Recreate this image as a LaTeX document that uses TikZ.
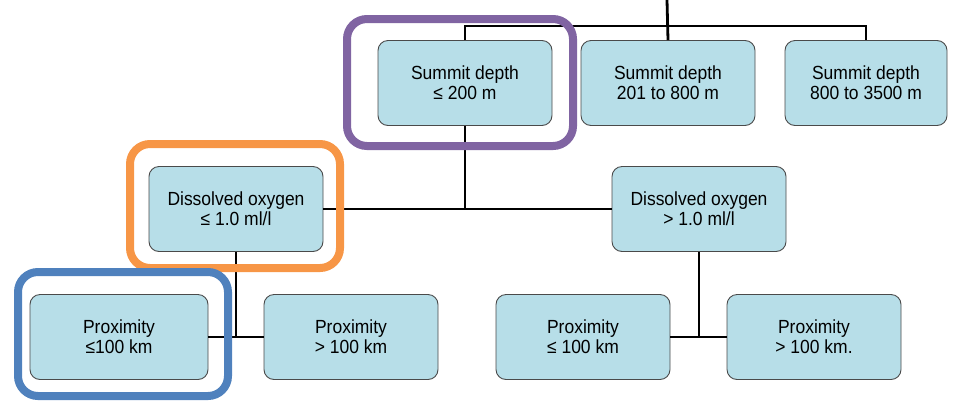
\documentclass[tikz,border=0pt]{standalone}
\usepackage{fontspec}
\setmainfont{Liberation Sans}[FakeStretch=0.92]
\definecolor{boxfill}{HTML}{B7DEE8}
\definecolor{boxedge}{HTML}{4A4A4A}
\definecolor{hlpurple}{HTML}{8064A2}
\definecolor{hlorange}{HTML}{F79646}
\definecolor{hlblue}{HTML}{4F81BD}
\begin{document}
\begin{tikzpicture}[x=1pt,y=-1pt,
  crit/.style={draw=boxedge,line width=0.9pt,fill=boxfill,rounded corners=10pt,
    minimum width=174pt,minimum height=85pt,align=center,inner sep=0pt,
    font=\fontsize{19}{20}\selectfont},
  link/.style={draw=black,line width=2.8pt},
  hilite/.style={line width=8pt,rounded corners=20pt}]
\useasboundingbox (0,0) rectangle (955,400);
% criterion boxes
\node[crit] (sd1) at (465,83) {Summit depth\\≤ 200 m};
\node[crit] (sd2) at (668,83) {Summit depth\\201 to 800 m};
\node[crit,minimum width=162pt] (sd3) at (866,83) {Summit depth\\800 to 3500 m};
\node[crit] (do1) at (236,209) {Dissolved oxygen\\≤ 1.0 ml/l};
\node[crit] (do2) at (699,209) {Dissolved oxygen\\> 1.0 ml/l};
\node[crit,minimum width=178pt] (pa) at (119,337) {Proximity\\≤100 km};
\node[crit] (pb) at (351,337) {Proximity\\> 100 km};
\node[crit] (pc) at (583,337) {Proximity\\≤ 100 km};
\node[crit] (pd) at (814,337) {Proximity\\> 100 km.};
% tree connectors
\coordinate (root) at (667,0);
\coordinate (bar) at (667,26);
\draw[link] (root) -- (sd2.north);
\draw[link] (sd1.north) |- (bar) -| (sd3.north);
\draw[link] (sd1.south) -- (sd1.south |- do1.east);
\draw[link] (do1.east) -- (do2.west);
\draw[link] (do1.south) -- (do1.south |- pa.east);
\draw[link] (pa.east) -- (pb.west);
\draw[link] (do2.south) -- (do2.south |- pc.east);
\draw[link] (pc.east) -- (pd.west);
% highlight frames
\draw[hilite,draw=hlpurple] (347,19) rectangle (573,146);
\draw[hilite,draw=hlorange] (130,144) rectangle (340,268);
\draw[hilite,draw=hlblue] (18,272) rectangle (228,396);
\end{tikzpicture}
\end{document}
